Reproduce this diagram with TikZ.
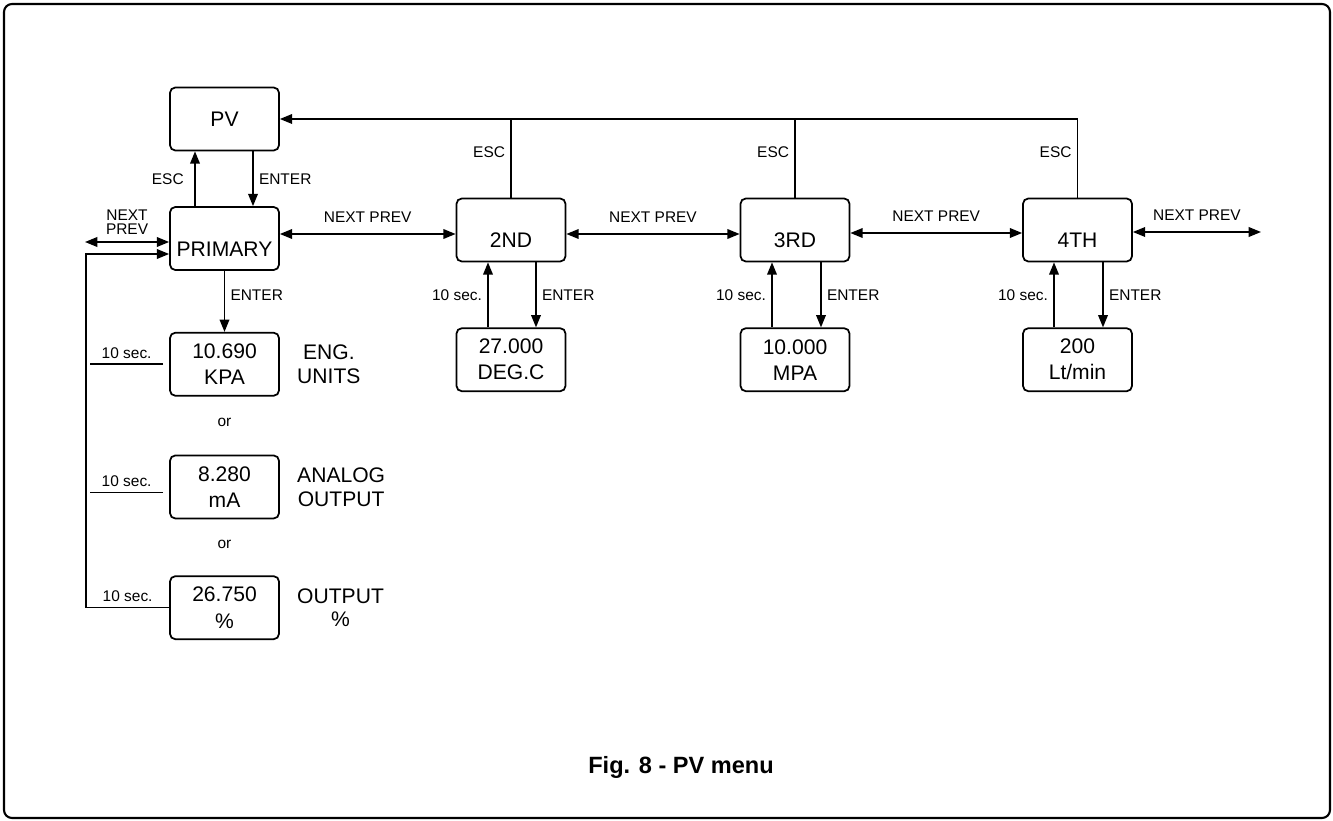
\documentclass[tikz,border=0pt]{standalone}
\usepackage{fontspec}
\setmainfont{Liberation Sans}
\usepackage{tikz}
\usetikzlibrary{arrows.meta,positioning,calc}

\begin{document}
\begin{tikzpicture}[
  x=0.02cm, y=-0.02cm,
  menubox/.style={draw, line width=1pt, rounded corners=3pt, minimum width=2.18cm, minimum height=1.26cm, inner sep=0pt, font=\fontsize{12}{14.8}\selectfont},
  lowtext/.style={text height=20pt, text depth=0pt},
  valbox/.style={menubox, align=center},
  side/.style={align=center, inner sep=0pt, font=\fontsize{12}{13.5}\selectfont},
  lbl/.style={font=\fontsize{8.8}{8}\selectfont, inner sep=3pt},
  wire/.style={line width=0.85pt},
  arr/.style={-{Triangle[length=7pt,width=5.5pt]}, line width=0.85pt},
  dbl/.style={{Triangle[length=7pt,width=5.5pt]}-{Triangle[length=7pt,width=5.5pt]}, line width=0.85pt}
]
\useasboundingbox (0,0) rectangle (1333,821);

% frame
\draw[line width=1.2pt, rounded corners=0.16cm] (4,4) rectangle (1330,818);

% Menu level
\node[menubox] (pv) at (224.5,119) {PV};
\node[menubox, lowtext] (prim) at (224.5,238.5) {PRIMARY};
\node[menubox, lowtext] (second) at (511,230) {2ND};
\node[menubox, lowtext] (third) at (795,230) {3RD};
\node[menubox, lowtext] (fourth) at (1077.5,230) {4TH};

% Displayed values
\node[valbox, below=1.22cm of prim] (kpa) {10.690\\KPA};
\node[valbox, below=1.16cm of kpa] (ma) {8.280\\mA};
\node[valbox, below=1.12cm of ma] (pct) {26.750\\\%};
\node[valbox, below=1.3cm of second] (degc) {27.000\\DEG.C};
\node[valbox, below=1.3cm of third] (mpa) {10.000\\MPA};
\node[valbox, below=1.3cm of fourth] (ltmin) {200\\Lt/min};

\node[side, right=0.34cm of kpa] (eng) {ENG.\\UNITS};
\node[side, right=0.34cm of ma] (analog) {ANALOG\\OUTPUT};
\node[side, right=0.34cm of pct] (outpct) {OUTPUT\\\%};

\node[lbl] (or1) at ($(kpa.south)!0.5!(ma.north)+(0,-3)$) {or};
\node[lbl] (or2) at ($(ma.south)!0.5!(pct.north)+(0,-3)$) {or};

\node[font=\bfseries\fontsize{13.4}{16}\selectfont, anchor=base] (caption) at (681,773) {Fig. 8 - PV menu};

\coordinate (nextL) at (85,242);
\coordinate (nextR) at (1261,232);

% PV <-> PRIMARY
\draw[arr] ($(prim.north)+(-29.5,0)$) -- node[lbl, left=3pt] {ESC} ($(pv.south)+(-29.5,0)$);
\draw[arr] ($(pv.south)+(28.5,0)$) -- node[lbl, right] {ENTER} ($(prim.north)+(28.5,0)$);

% NEXT / PREV chain
\draw[dbl] (nextL) -- node[lbl, above=1pt, align=center] {NEXT\\PREV} (nextL -| prim.west);
\draw[dbl] ($(prim.east)+(0,-4.5)$) -- node[lbl, above=3pt] {NEXT PREV} ($(second.west)+(0,4)$);
\draw[dbl] ($(second.east)+(0,4)$) -- node[lbl, above=3pt] {NEXT PREV} ($(third.west)+(0,4)$);
\draw[dbl] ($(third.east)+(0,3)$) -- node[lbl, above=3pt] {NEXT PREV} ($(fourth.west)+(0,3)$);
\draw[dbl] ($(fourth.east)+(0,2)$) -- node[lbl, above=3pt] {NEXT PREV} (nextR);

% ESC back to PV
\draw[arr] (fourth.north) |- node[lbl, left, pos=0.29] {ESC} (pv.east);
\draw[wire] (second.north) -- node[lbl, left, pos=0.58] {ESC} (second.north |- pv.east);
\draw[wire] (third.north) -- node[lbl, left, pos=0.58] {ESC} (third.north |- pv.east);

% value displays of 2ND, 3RD, 4TH
\draw[arr] ($(degc.north)+(-23,0)$) -- node[lbl, left] {10 sec.} ($(second.south)+(-23,0)$);
\draw[arr] ($(second.south)+(25,0)$) -- node[lbl, right] {ENTER} ($(degc.north)+(25,0)$);
\draw[arr] ($(mpa.north)+(-23,0)$) -- node[lbl, left] {10 sec.} ($(third.south)+(-23,0)$);
\draw[arr] ($(third.south)+(26,0)$) -- node[lbl, right] {ENTER} ($(mpa.north)+(26,0)$);
\draw[arr] ($(ltmin.north)+(-23.5,0)$) -- node[lbl, left] {10 sec.} ($(fourth.south)+(-23.5,0)$);
\draw[arr] ($(fourth.south)+(25.5,0)$) -- node[lbl, right] {ENTER} ($(ltmin.north)+(25.5,0)$);

% PRIMARY values
\draw[arr] (prim.south) -- node[lbl, right, pos=0.4] {ENTER} (kpa.north);
\draw[wire] ($(kpa.west)+(-6,0)$) -- node[lbl, above] {10 sec.} ++(-73,0);
\draw[wire] ($(ma.west)+(-6,5.5)$) -- node[lbl, above] {10 sec.} ++(-73,0);
\draw[arr] (pct.west) -- node[lbl, above] {10 sec.} ++(-83,0) |- ($(prim.west)+(0,15.5)$);

\end{tikzpicture}
\end{document}
